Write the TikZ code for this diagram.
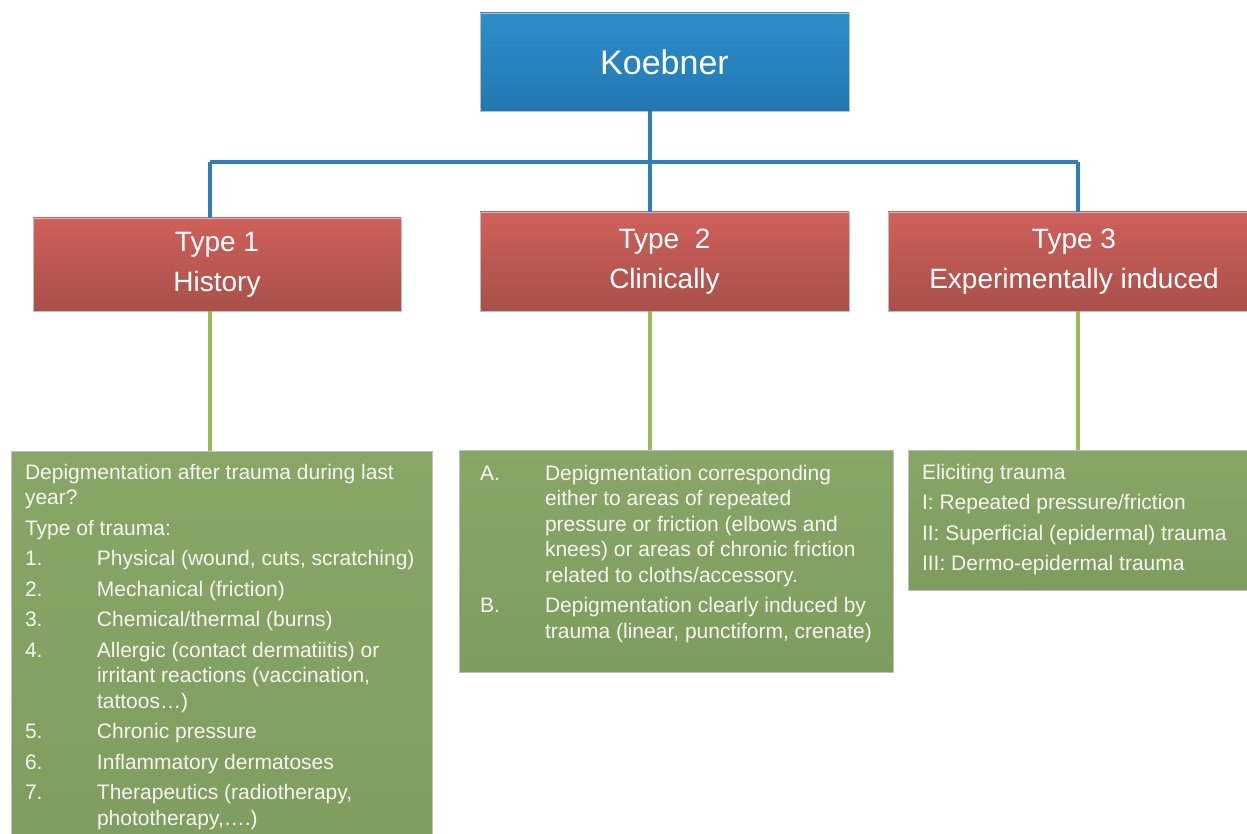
\documentclass[tikz,border=0pt]{standalone}
\usepackage{fontspec}
\setmainfont{Liberation Sans}
\definecolor{bluetop}{RGB}{46,142,202}
\definecolor{bluebot}{RGB}{34,120,176}
\definecolor{redtop}{RGB}{208,96,90}
\definecolor{redbot}{RGB}{168,80,74}
\definecolor{greentop}{RGB}{136,166,102}
\definecolor{greenbot}{RGB}{126,156,94}
\definecolor{blueline}{RGB}{46,126,186}
\definecolor{greenline}{RGB}{155,187,89}
\definecolor{boxtext}{RGB}{246,246,242}
\begin{document}
\begin{tikzpicture}[x=1pt,y=-1pt,
  basebox/.style={rectangle, inner sep=0pt, outer sep=0pt, anchor=north west, text=white, draw=white!75!black, line width=0.6pt},
  bluebox/.style={basebox, top color=bluetop, bottom color=bluebot, font=\fontsize{34}{40}\selectfont},
  redbox/.style={basebox, top color=redtop, bottom color=redbot, align=center, font=\fontsize{28}{40}\selectfont},
  greenbox/.style={basebox, top color=greentop, bottom color=greenbot},
  bodytext/.style={anchor=base west, inner sep=0pt, outer sep=0pt, text=boxtext},
  bl/.style={draw=blueline, line width=3.5pt},
  gl/.style={draw=greenline, line width=3.5pt}]
\clip (0,0) rectangle (1247,834);
\fill[white] (0,0) rectangle (1247,834);

\coordinate (hub) at (650,162);
\coordinate (l1) at (210,162);
\coordinate (l3) at (1078,162);

\node[bluebox, minimum width=369pt, minimum height=98pt] (koebner) at (480,13) {Koebner};
\node[redbox, minimum width=368pt, minimum height=93pt] (type1) at (33,218) {Type 1\\History};
\node[redbox, minimum width=369pt, minimum height=99pt] (type2) at (480,212) {Type\ \ 2\\Clinically};
\node[redbox, minimum width=372pt, minimum height=99pt] (type3) at (888,212) {Type 3\\Experimentally induced};
\node[greenbox, minimum width=421pt, minimum height=450pt] (g1) at (11,451) {};
\node[greenbox, minimum width=434pt, minimum height=222pt] (g2) at (459,450) {};
\node[greenbox, minimum width=352pt, minimum height=140pt] (g3) at (908,450) {};

\draw[bl] (koebner.south -| hub) -- (type2.north -| hub);
\draw[bl] (l1) -- (l3);
\draw[bl] (l1) -- (type1.north -| l1);
\draw[bl] (l3) -- (type3.north -| l3);
\draw[gl] (type1.south -| l1) -- (g1.north -| l1);
\draw[gl] (type2.south -| hub) -- (g2.north -| hub);
\draw[gl] (type3.south -| l3) -- (g3.north -| l3);

\node[bodytext] (t1) at (25,479) {\parbox[t]{420pt}{\raggedright\fontsize{21}{25.5}\selectfont
Depigmentation after trauma during last\\
year?\\[5pt]
Type of trauma:\\[5pt]
\makebox[72pt][l]{1.}Physical (wound, cuts, scratching)\\[5pt]
\makebox[72pt][l]{2.}Mechanical (friction)\\[5pt]
\makebox[72pt][l]{3.}Chemical/thermal (burns)\\[5pt]
\makebox[72pt][l]{4.}Allergic (contact dermatiitis) or\\
\hspace*{72pt}irritant reactions (vaccination,\\
\hspace*{72pt}tattoos…)\\[5pt]
\makebox[72pt][l]{5.}Chronic pressure\\[5pt]
\makebox[72pt][l]{6.}Inflammatory dermatoses\\[5pt]
\makebox[72pt][l]{7.}Therapeutics (radiotherapy,\\
\hspace*{72pt}phototherapy,….)}};

\node[bodytext] (t2) at (480,480) {\parbox[t]{420pt}{\raggedright\fontsize{21}{25.5}\selectfont
\makebox[65pt][l]{A.}Depigmentation corresponding\\
\hspace*{65pt}either to areas of repeated\\
\hspace*{65pt}pressure or friction (elbows and\\
\hspace*{65pt}knees) or areas of chronic friction\\
\hspace*{65pt}related to cloths/accessory.\\[5pt]
\makebox[65pt][l]{B.}Depigmentation clearly induced by\\
\hspace*{65pt}trauma (linear, punctiform, crenate)}};

\node[bodytext] (t3) at (922,479) {\parbox[t]{330pt}{\raggedright\fontsize{21}{25.5}\selectfont
Eliciting trauma\\[5pt]
I: Repeated pressure/friction\\[5pt]
II: Superficial (epidermal) trauma\\[5pt]
III: Dermo-epidermal trauma}};
\end{tikzpicture}
\end{document}
